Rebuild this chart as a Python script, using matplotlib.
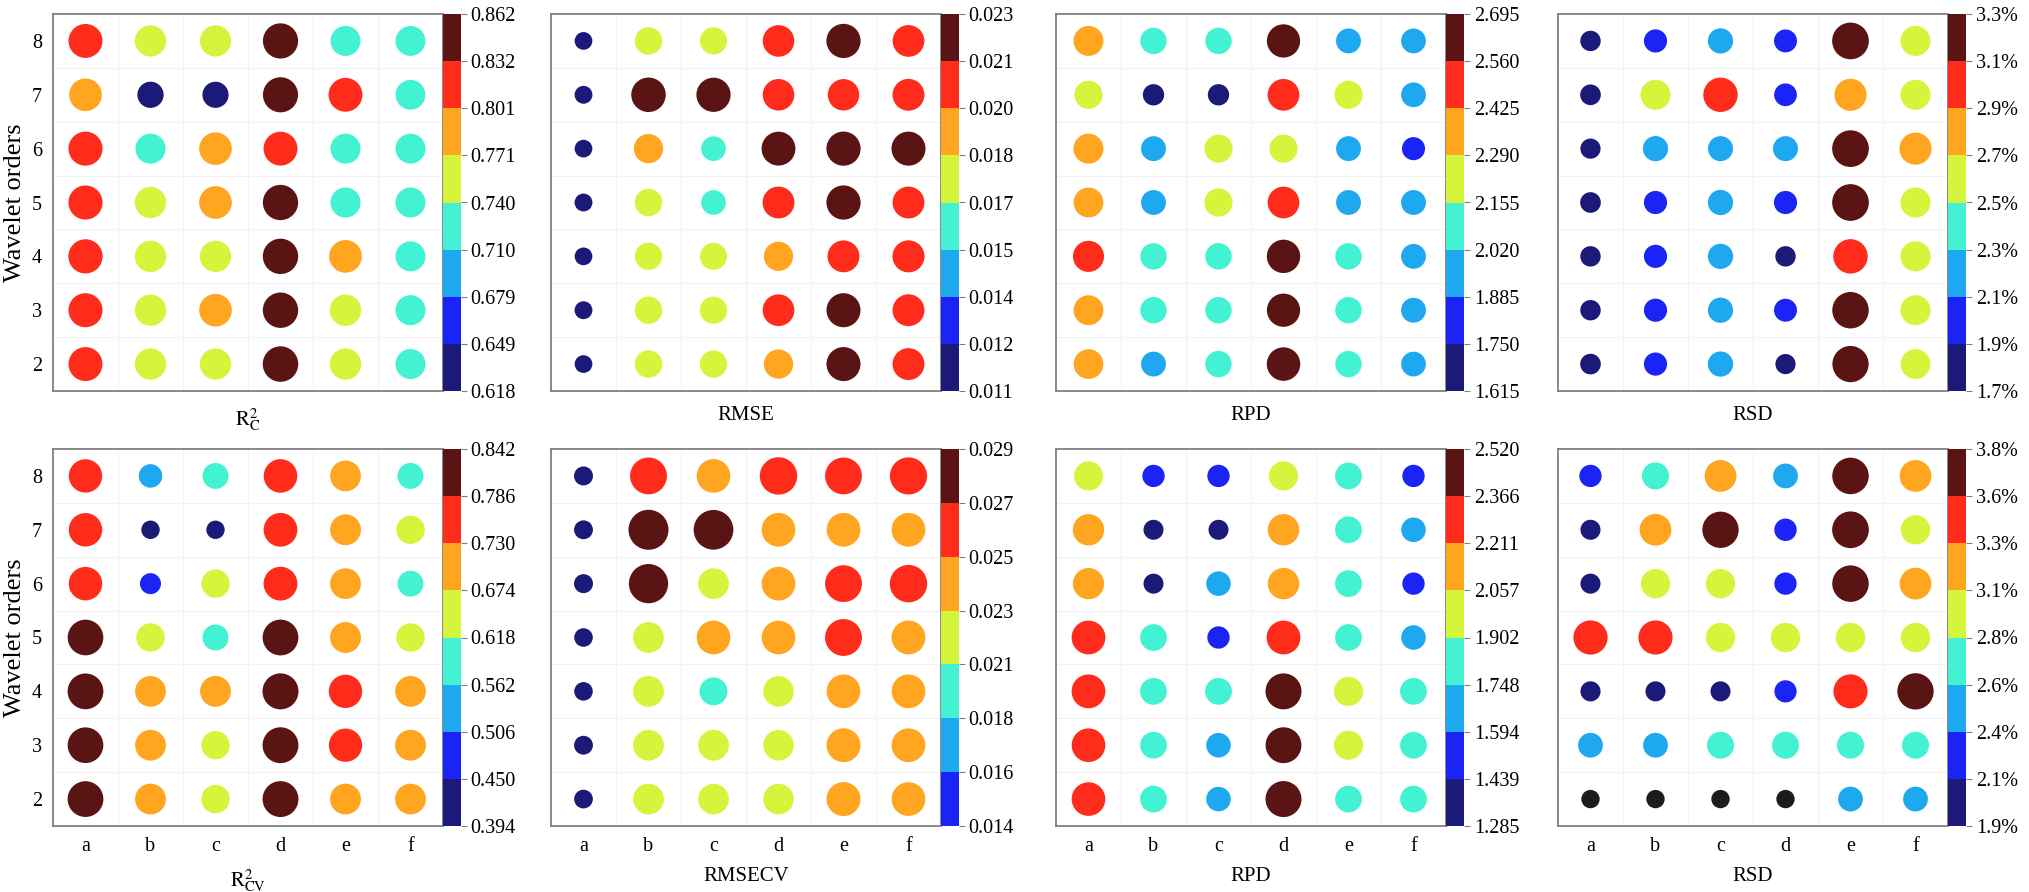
import numpy as np
import matplotlib
matplotlib.use('Agg')
import matplotlib.pyplot as plt
from matplotlib.colors import ListedColormap, BoundaryNorm
from matplotlib.cm import ScalarMappable

plt.rcParams['font.family'] = ['Liberation Serif', 'DejaVu Serif']
plt.rcParams['mathtext.fontset'] = 'stix'

methods = ['a', 'b', 'c', 'd', 'e', 'f']
orders = [8, 7, 6, 5, 4, 3, 2]

# rows follow `orders` (8 at top), columns follow `methods`
r2c = [[0.818, 0.752, 0.750, 0.848, 0.722, 0.720],
       [0.786, 0.632, 0.630, 0.846, 0.815, 0.718],
       [0.820, 0.724, 0.784, 0.816, 0.722, 0.720],
       [0.822, 0.755, 0.786, 0.850, 0.724, 0.722],
       [0.824, 0.756, 0.754, 0.852, 0.788, 0.722],
       [0.820, 0.754, 0.786, 0.852, 0.756, 0.724],
       [0.818, 0.752, 0.752, 0.855, 0.754, 0.722]]

rmse = [[0.0115, 0.0178, 0.0176, 0.0205, 0.0222, 0.0206],
        [0.0116, 0.0224, 0.0222, 0.0205, 0.0204, 0.0207],
        [0.0115, 0.0190, 0.0160, 0.0220, 0.0222, 0.0221],
        [0.0116, 0.0178, 0.0160, 0.0207, 0.0222, 0.0207],
        [0.0115, 0.0177, 0.0176, 0.0190, 0.0207, 0.0208],
        [0.0116, 0.0178, 0.0177, 0.0206, 0.0221, 0.0207],
        [0.0115, 0.0178, 0.0177, 0.0190, 0.0221, 0.0207]]

rpd_c = [[2.36, 2.08, 2.08, 2.62, 1.96, 1.95],
         [2.22, 1.68, 1.68, 2.50, 2.22, 1.95],
         [2.36, 1.96, 2.22, 2.22, 1.96, 1.82],
         [2.35, 1.96, 2.22, 2.50, 1.96, 1.96],
         [2.45, 2.08, 2.08, 2.63, 2.08, 1.96],
         [2.35, 2.08, 2.08, 2.62, 2.08, 1.96],
         [2.34, 1.96, 2.08, 2.64, 2.08, 1.95]]

rsd_c = [[1.78, 2.02, 2.20, 2.00, 3.20, 2.62],
         [1.80, 2.62, 3.00, 1.98, 2.80, 2.62],
         [1.76, 2.20, 2.18, 2.18, 3.20, 2.80],
         [1.80, 2.02, 2.20, 2.02, 3.20, 2.62],
         [1.78, 2.02, 2.20, 1.78, 3.00, 2.62],
         [1.78, 2.02, 2.20, 2.00, 3.18, 2.62],
         [1.80, 2.02, 2.20, 1.76, 3.16, 2.60]]

r2cv = [[0.760, 0.535, 0.590, 0.765, 0.700, 0.590],
        [0.762, 0.420, 0.418, 0.768, 0.702, 0.645],
        [0.762, 0.478, 0.645, 0.770, 0.700, 0.590],
        [0.812, 0.648, 0.592, 0.815, 0.702, 0.648],
        [0.815, 0.700, 0.702, 0.820, 0.760, 0.700],
        [0.812, 0.700, 0.645, 0.818, 0.758, 0.702],
        [0.815, 0.702, 0.646, 0.818, 0.702, 0.700]]

rmsecv = [[0.0133, 0.0258, 0.0236, 0.0262, 0.0258, 0.0260],
          [0.0132, 0.0280, 0.0278, 0.0236, 0.0236, 0.0236],
          [0.0133, 0.0275, 0.0215, 0.0236, 0.0258, 0.0262],
          [0.0130, 0.0215, 0.0236, 0.0236, 0.0258, 0.0237],
          [0.0130, 0.0216, 0.0195, 0.0214, 0.0236, 0.0236],
          [0.0132, 0.0215, 0.0215, 0.0214, 0.0237, 0.0236],
          [0.0131, 0.0215, 0.0214, 0.0214, 0.0238, 0.0236]]

rpd_cv = [[1.98, 1.52, 1.52, 1.98, 1.82, 1.52],
          [2.13, 1.36, 1.36, 2.14, 1.82, 1.67],
          [2.13, 1.36, 1.67, 2.14, 1.82, 1.52],
          [2.30, 1.82, 1.52, 2.30, 1.82, 1.67],
          [2.30, 1.82, 1.82, 2.45, 1.98, 1.82],
          [2.29, 1.82, 1.67, 2.44, 1.98, 1.82],
          [2.29, 1.82, 1.67, 2.45, 1.82, 1.82]]

rsd_cv = [[2.25, 2.72, 3.20, 2.50, 3.68, 3.20],
          [2.02, 3.20, 3.66, 2.26, 3.70, 2.96],
          [2.02, 2.96, 2.96, 2.25, 3.68, 3.20],
          [3.45, 3.44, 2.96, 2.96, 2.96, 2.96],
          [2.03, 2.02, 2.02, 2.24, 3.44, 3.66],
          [2.50, 2.50, 2.72, 2.72, 2.72, 2.72],
          [1.85, 1.85, 1.85, 1.85, 2.50, 2.50]]

# colorbar tick labels as printed
tl_r2c = ['0.618', '0.649', '0.679', '0.710', '0.740', '0.771', '0.801', '0.832', '0.862']
tl_rmse = ['0.011', '0.012', '0.014', '0.015', '0.017', '0.018', '0.020', '0.021', '0.023']
tl_rpd_c = ['1.615', '1.750', '1.885', '2.020', '2.155', '2.290', '2.425', '2.560', '2.695']
tl_rsd_c = ['1.7%', '1.9%', '2.1%', '2.3%', '2.5%', '2.7%', '2.9%', '3.1%', '3.3%']
tl_r2cv = ['0.394', '0.450', '0.506', '0.562', '0.618', '0.674', '0.730', '0.786', '0.842']
tl_rmsecv = ['0.014', '0.016', '0.018', '0.021', '0.023', '0.025', '0.027', '0.029']
tl_rpd_cv = ['1.285', '1.439', '1.594', '1.748', '1.902', '2.057', '2.211', '2.366', '2.520']
tl_rsd_cv = ['1.9%', '2.1%', '2.4%', '2.6%', '2.8%', '3.1%', '3.3%', '3.6%', '3.8%']

ranges = [(0.618, 0.862), (0.011, 0.023), (1.615, 2.695), (1.7, 3.3),
          (0.394, 0.842), (0.014, 0.029), (1.285, 2.520), (1.9, 3.8)]

colors8 = ['#1b1a78', '#1a25f5', '#1ea8f0', '#42f2d2', '#d5f53c', '#ffa520', '#ff2c1c', '#5a1414']

panels = [
    (r2c, tl_r2c, r'$\mathrm{R}^{2}_{\mathrm{C}}$', 35.5),
    (rmse, tl_rmse, 'RMSE', 34.5),
    (rpd_c, tl_rpd_c, 'RPD', 33.5),
    (rsd_c, tl_rsd_c, 'RSD', 36.7),
    (r2cv, tl_r2cv, r'$\mathrm{R}^{2}_{\mathrm{CV}}$', 36.0),
    (rmsecv, tl_rmsecv, 'RMSECV', 40.0),
    (rpd_cv, tl_rpd_cv, 'RPD', 36.0),
    (rsd_cv, tl_rsd_cv, 'RSD', 36.7),
]

W, H = 2029, 892
fig = plt.figure(figsize=(W / 100, H / 100), dpi=100)
lefts = [53, 551, 1056, 1558]
tops = [14, 449]
aw, ah, cw = 390, 377, 18

X, Y = np.meshgrid(np.arange(1, 7), orders)

for i, (vals, labels, name, dmax) in enumerate(panels):
    r, c = divmod(i, 4)
    vals = np.array(vals)
    ax = fig.add_axes([lefts[c] / W, 1 - (tops[r] + ah) / H, aw / W, ah / H])
    cax = fig.add_axes([(lefts[c] + aw) / W, 1 - (tops[r] + ah) / H, cw / W, ah / H])

    lo, hi = ranges[i]
    bounds = np.linspace(lo, hi, len(labels))
    nb = len(labels) - 1
    cmap = ListedColormap(colors8[8 - nb:])
    if i == 7:
        cmap.set_under('#1c1c1c')
    else:
        cmap.set_under(colors8[0])
    norm = BoundaryNorm(bounds, nb)

    # marker diameter proportional to value
    diam = dmax * vals / vals.max() * 0.72
    ax.scatter(X.ravel(), Y.ravel(), s=diam.ravel() ** 2, c=vals.ravel(),
               cmap=cmap, norm=norm, linewidths=0, zorder=3)

    ax.set_xlim(0.5, 6.5)
    ax.set_ylim(1.5, 8.5)
    ax.set_xticks(range(1, 7))
    ax.set_yticks(orders)
    ax.set_xticks(np.arange(1.5, 6.5, 1), minor=True)
    ax.set_yticks(np.arange(2.5, 8.5, 1), minor=True)
    ax.grid(which='minor', color='#f2f2f2', linewidth=0.8, zorder=0)
    ax.tick_params(which='both', length=0, labelsize=14.5, pad=8)
    for sp in ax.spines.values():
        sp.set_color('#808080')
        sp.set_linewidth(1.3)

    if r == 1:
        ax.set_xticklabels(methods)
        ax.set_xlabel(name, fontsize=15, labelpad=8)
    else:
        ax.set_xticklabels([])
        ax.set_xlabel(name, fontsize=15, labelpad=3)
    if c == 0:
        ax.set_ylabel('Wavelet orders', fontsize=19, labelpad=4)
    else:
        ax.set_yticklabels([])

    cb = fig.colorbar(ScalarMappable(norm=norm, cmap=cmap), cax=cax, ticks=bounds)
    cb.set_ticklabels(labels)
    cb.outline.set_linewidth(0)
    cax.tick_params(length=4, width=0.8, color='#808080', labelsize=14.5, pad=3)

fig.savefig('out.png', dpi=100, facecolor='white')
